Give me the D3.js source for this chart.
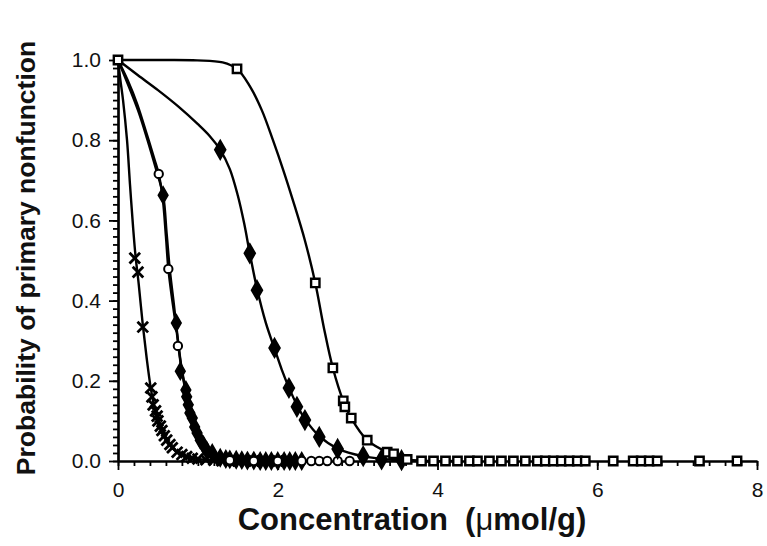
<!DOCTYPE html>
<html><head><meta charset="utf-8">
<script src="https://cdn.jsdelivr.net/npm/d3@7"></script>
<style>body{margin:0;background:#fff}svg{display:block}</style>
</head><body>
<svg id="chart" width="767" height="546"></svg>
<script>
// ---- data ----
const xTicks = [0, 2, 4, 6, 8];
const yTicks = [0, 0.2, 0.4, 0.6, 0.8, 1.0];
const xLabel = "Concentration  (";
const xUnit = "μ";
const xLabelEnd = "mol/g)";
const yLabel = "Probability of primary nonfunction";

// fitted curves
const curveCross = [[0,1],[0.03,0.95],[0.063,0.90],[0.113,0.80],[0.15,0.69],[0.19,0.58],[0.22,0.51],[0.26,0.44],[0.31,0.34],[0.36,0.255],[0.41,0.182],[0.45,0.14],[0.50,0.105],[0.55,0.077],[0.61,0.052],[0.68,0.033],[0.74,0.022],[0.86,0.011],[1.0,0.005],[1.3,0.001],[1.8,0]];
const curveCircle = [[0,1],[0.12,0.95],[0.24,0.89],[0.36,0.815],[0.46,0.75],[0.51,0.715],[0.56,0.655],[0.60,0.56],[0.63,0.48],[0.68,0.40],[0.73,0.33],[0.78,0.25],[0.84,0.18],[0.90,0.125],[0.99,0.07],[1.11,0.03],[1.28,0.008],[1.53,0.002],[2.0,0]];
const curveSmallDiamond = [[0,1],[0.25,0.875],[0.37,0.80],[0.48,0.725],[0.565,0.663],[0.61,0.565],[0.65,0.475],[0.70,0.39],[0.74,0.32],[0.79,0.24],[0.85,0.175],[0.92,0.118],[1.0,0.068],[1.12,0.03],[1.3,0.009],[1.6,0.002],[2.0,0]];
const curveBigDiamond = [[0,1],[0.25,0.962],[0.5,0.925],[0.75,0.885],[1.0,0.84],[1.15,0.81],[1.28,0.776],[1.40,0.728],[1.50,0.662],[1.58,0.592],[1.65,0.518],[1.74,0.43],[1.85,0.345],[1.96,0.28],[2.05,0.228],[2.14,0.183],[2.24,0.14],[2.34,0.105],[2.52,0.062],[2.75,0.031],[3.07,0.012],[3.5,0.002],[4.0,0]];
const curveSquare = [[0,1],[0.6,1.0],[0.99,0.999],[1.31,0.994],[1.49,0.978],[1.65,0.935],[1.80,0.875],[1.94,0.80],[2.07,0.725],[2.19,0.65],[2.34,0.55],[2.47,0.444],[2.58,0.33],[2.69,0.232],[2.82,0.15],[2.92,0.107],[3.12,0.052],[3.37,0.022],[3.62,0.004],[4.2,0]];

// observed points
const crossPts = [[0.21,0.506],[0.25,0.471],[0.31,0.334],[0.41,0.182],[0.425,0.16],[0.44,0.14],[0.47,0.125],[0.49,0.112],[0.50,0.10],[0.53,0.087],[0.55,0.076],[0.58,0.063],[0.61,0.052],[0.65,0.041],[0.68,0.033],[0.74,0.022],[0.80,0.016],[0.86,0.011],[0.93,0.007],[1.0,0.005],[1.1,0.003],[1.2,0.002],[1.3,0.001],[1.4,0],[1.5,0],[1.6,0],[1.7,0],[1.8,0],[1.9,0],[2.0,0],[2.1,0]];
const circlePts = [[0.51,0.716],[0.63,0.479],[0.75,0.287],[1.4,0.002],[1.7,0],[2.0,0],[2.3,0],[2.42,0],[2.52,0],[2.62,0],[2.75,0],[2.9,0]];
const smallDiamondPts = [[0.565,0.663],[0.73,0.344],[0.78,0.224],[0.85,0.177],[0.86,0.16],[0.88,0.14],[0.90,0.12],[0.93,0.107],[0.96,0.085],[0.99,0.07],[1.03,0.052],[1.07,0.04],[1.11,0.027],[1.18,0.02],[1.28,0.008],[1.35,0.005],[1.4,0.004],[1.48,0.003],[1.55,0.002],[1.62,0.001],[1.7,0.001],[1.78,0],[1.85,0],[1.92,0],[2.0,0],[2.08,0],[2.15,0],[2.22,0],[2.3,0]];
const bigDiamondPts = [[1.28,0.776],[1.65,0.518],[1.74,0.426],[1.96,0.282],[2.14,0.182],[2.24,0.135],[2.34,0.102],[2.52,0.060],[2.75,0.030],[3.07,0.012],[3.3,0.004],[3.55,0.002]];
const squarePts = [[0,1],[1.49,0.978],[2.47,0.444],[2.69,0.232],[2.82,0.15],[2.84,0.135],[2.92,0.107],[3.12,0.052],[3.37,0.022],[3.45,0.018],[3.62,0.004],[3.8,0],[3.95,0],[4.1,0],[4.25,0],[4.4,0],[4.5,0],[4.65,0],[4.8,0],[4.95,0],[5.1,0],[5.25,0],[5.35,0],[5.45,0],[5.55,0],[5.65,0],[5.75,0],[5.85,0],[6.2,0],[6.45,0],[6.55,0],[6.65,0],[6.75,0],[7.28,0],[7.75,0]];

// ---- drawing ----
const svg = d3.select("#chart");
const x = d3.scaleLinear().domain([0, 8]).range([118, 757]);
const y = d3.scaleLinear().domain([0, 1]).range([461, 60]);
const font = "'Liberation Sans', Arial, Helvetica, sans-serif";
const noLabel = () => "";

// axes
const yMinor = svg.append("g").attr("transform", `translate(${x(0)},0)`)
  .call(d3.axisLeft(y).tickValues(d3.range(0, 51).map(i => i / 50)).tickSize(5).tickSizeOuter(0).tickFormat(noLabel));
const yMajor = svg.append("g").attr("transform", `translate(${x(0)},0)`)
  .call(d3.axisLeft(y).tickValues(yTicks).tickSize(9).tickSizeOuter(0).tickPadding(8).tickFormat(d3.format(".1f")));
const xMinor = svg.append("g").attr("transform", `translate(0,${y(0)})`)
  .call(d3.axisBottom(x).tickValues(d3.range(0, 41).map(i => i / 5)).tickSize(5).tickSizeOuter(0).tickFormat(noLabel));
const xMajor = svg.append("g").attr("transform", `translate(0,${y(0)})`)
  .call(d3.axisBottom(x).tickValues(xTicks).tickSize(9).tickSizeOuter(0).tickPadding(12).tickFormat(d3.format("d")));
[yMinor, yMajor, xMinor, xMajor].forEach(g => {
  g.selectAll("path.domain").attr("stroke", "#000").attr("stroke-width", 2.2);
  g.selectAll(".tick line").attr("stroke", "#000").attr("stroke-width", 1.8);
  g.selectAll(".tick text").attr("fill", "#111").style("font-family", font).style("font-size", "21px");
});

// curves
const line = d3.line().x(d => x(d[0])).y(d => y(d[1])).curve(d3.curveCatmullRom.alpha(0.5));
[curveCross, curveCircle, curveSmallDiamond, curveBigDiamond, curveSquare].forEach(c => {
  svg.append("path").datum(c).attr("d", line).attr("fill", "none")
    .attr("stroke", "#000").attr("stroke-width", 2.4);
});

// markers
function draw(pts, type, size, fill, sw) {
  svg.append("g").selectAll("path").data(pts).join("path")
    .attr("transform", d => `translate(${x(d[0])},${y(d[1])})`)
    .attr("d", d3.symbol().type(type).size(size))
    .attr("fill", fill).attr("stroke", "#000").attr("stroke-width", sw);
}
draw(crossPts, d3.symbolTimes, 75, "none", 2.8);
draw(smallDiamondPts, d3.symbolDiamond, 80, "#000", 1.6);
draw(circlePts, d3.symbolCircle, 55, "#fff", 2);
draw(bigDiamondPts, d3.symbolDiamond, 100, "#000", 1.8);
draw(squarePts, d3.symbolSquare, 70, "#fff", 2.4);

// axis titles
const xt = svg.append("text").attr("x", 412).attr("y", 530).attr("text-anchor", "middle")
  .style("white-space", "pre")
  .style("font-family", font).style("font-size", "31px").style("font-weight", "bold").attr("fill", "#111");
xt.append("tspan").text(xLabel);
xt.append("tspan").style("font-weight", "normal").text(xUnit);
xt.append("tspan").text(xLabelEnd);
svg.append("text").attr("transform", `translate(35,258) rotate(-90)`).attr("text-anchor", "middle")
  .style("font-family", font).style("font-size", "26.5px").style("font-weight", "bold").attr("fill", "#111")
  .text(yLabel);
</script>
</body></html>
